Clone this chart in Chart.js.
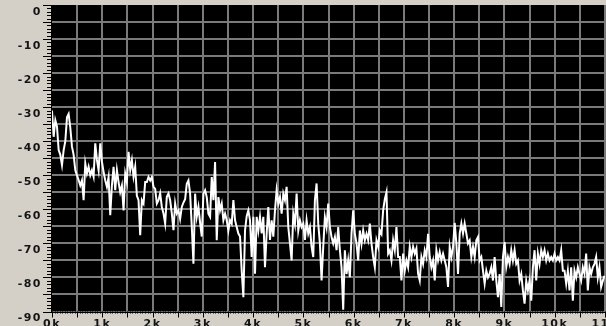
<!DOCTYPE html>
<html>
<head>
<meta charset="utf-8">
<script src="https://cdn.jsdelivr.net/npm/chart.js@4/dist/chart.umd.min.js"></script>
<style>
  html, body { margin: 0; padding: 0; background: #d4d0c8; }
  #wrap { width: 606px; height: 326px; position: relative; }
</style>
</head>
<body>
<div id="wrap"><canvas id="c" width="606" height="326"></canvas></div>
<script>
// Spectrum level (dB), one value per frequency bin.
const levelDb0to2_6k = [-31, -38.7, -33.8, -35.7, -42.6, -44, -47, -42.6, -40, -33, -32, -36, -41.6, -44, -48.5, -50, -51.4, -53, -51.5, -57.3, -46.5, -49.5, -47.5, -50, -48.5, -50.4, -40.6, -45.5, -48.5, -40.6, -46, -49, -51.5, -53.4, -50.5, -61.7, -53, -47.5, -54.4, -48.5, -52, -55, -53, -60.3, -49.5, -52, -43.1, -48.5, -45.6, -50.4, -47.5, -56, -57.3, -67.6, -57.3, -58.3, -52, -52, -50.5, -51.5, -50.5, -53.4, -54, -58.3, -57.3, -55.3, -59.3, -61.2, -64.2, -56.3, -55.3, -57.3, -61.2, -66.1, -58.3, -61.2, -60.3, -62.8, -59.3, -58];
const levelDb2_6to5_4k = [-57, -52.5, -51.5, -55.4, -65, -76, -55.4, -62.2, -59.3, -64, -68, -55.4, -54.4, -56.4, -61.3, -62.2, -50.5, -57.3, -46.1, -69.1, -56.4, -60.3, -58.3, -63.2, -61.3, -63.2, -66.2, -63.2, -64.2, -57.3, -63.2, -65.2, -67.1, -68, -78, -85.8, -66.2, -62, -60.3, -63.2, -74, -62.2, -78.9, -62.2, -66.2, -62.2, -67.1, -62.2, -77, -67.1, -59.3, -69, -63.2, -68, -60.3, -54.4, -58.3, -56.4, -61.3, -55.4, -57.3, -53.4, -65.2, -70, -75, -61.3, -64.2, -55.4, -66.2, -63.2, -65.2, -64.2, -69, -63.2, -67.1, -65.2, -71, -74, -57.3, -52.4, -64.2, -70, -80.9, -71];
const levelDb5_4to8_1k = [-62.3, -65.2, -58.3, -65.2, -68.1, -70, -68.1, -72, -65.2, -72, -77, -89.5, -72, -79, -75, -79.9, -67.2, -60.3, -67.2, -70, -75, -66.2, -70.1, -66.2, -69.1, -67.2, -69.1, -64.2, -70.1, -74, -77, -69.1, -71, -66.2, -67.2, -60.3, -57, -55, -73, -72, -75, -69.1, -72, -65.2, -74, -74, -80.9, -73, -78, -75, -77, -71, -74, -71, -73, -71.5, -78.9, -80.9, -74, -76, -72, -74, -67.2, -74, -77, -75, -80.9, -72, -75, -72.5, -75, -73, -75, -77, -82.8, -71, -74, -71, -64, -70, -79];
const levelDb8_1to11k = [-67.1, -64.2, -67.1, -64.2, -67.1, -70, -69.1, -74, -71, -74, -69.1, -68.1, -75, -74, -78, -81.8, -78, -80, -78.9, -77, -80.9, -74, -80.9, -85.8, -79, -88.7, -74, -69.6, -76.9, -74, -76, -72, -75, -72, -76, -75, -80.9, -79, -83.8, -87.7, -81, -83.8, -80.9, -86.8, -77, -72, -80.9, -73, -76, -72, -74, -72, -75, -73, -75, -74, -75, -73, -75, -74, -75, -72, -78, -78, -81.8, -78, -83.8, -77, -86.8, -78, -80, -77, -79, -80.9, -77, -78.9, -73, -83.8, -77, -79, -77, -76, -74, -80, -77, -82.8, -81, -79.5];

const binStepKHz = 0.0331;           // frequency spacing of the bins
const xTickLabels = ['0k', '1k', '2k', '3k', '4k', '5k', '6k', '7k', '8k', '9k', '10k', '11k'];

const levels = [].concat(levelDb0to2_6k, levelDb2_6to5_4k, levelDb5_4to8_1k, levelDb8_1to11k);
const points = levels.map((v, i) => ({ x: i * binStepKHz, y: v }));

const GRID = '#7a7a7a';
const TEXT = '#141414';
const FONT = { family: 'DejaVu Sans', size: 11, weight: 'bold' };

const framePlugin = {
  id: 'frame',
  beforeDraw(chart) {
    const { ctx, chartArea: a, width, height } = chart;
    ctx.save();
    ctx.fillStyle = '#d4d0c8';
    ctx.fillRect(0, 0, width, height);
    ctx.fillStyle = '#000';
    ctx.fillRect(a.left, a.top, width - a.left, a.bottom - a.top);
    ctx.restore();
    ctx.letterSpacing = '1.5px';
  },
  afterDraw(chart) {
    const { ctx, chartArea: a, scales } = chart;
    const ys = scales.y, xs = scales.x;
    ctx.save();
    ctx.letterSpacing = '0px';
    ctx.strokeStyle = '#000';
    ctx.lineWidth = 1;
    ctx.beginPath();
    for (let v = 0; v >= -90; v--) {
      const y = Math.round(ys.getPixelForValue(v)) + 0.5;
      const len = (v % 5 === 0) ? 9 : 5;
      ctx.moveTo(a.left - len, y);
      ctx.lineTo(a.left, y);
    }
    for (let j = 0; j <= 220; j++) {
      const x = Math.round(xs.getPixelForValue(j / 20)) + 0.5;
      const len = (j % 10 === 0) ? 6 : 2;
      ctx.moveTo(x, a.bottom);
      ctx.lineTo(x, a.bottom + len);
    }
    ctx.moveTo(Math.round(a.left) - 0.5, a.top);
    ctx.lineTo(Math.round(a.left) - 0.5, a.bottom + 1);
    ctx.moveTo(a.left, Math.round(a.bottom) + 0.5);
    ctx.lineTo(chart.width, Math.round(a.bottom) + 0.5);
    ctx.stroke();
    ctx.restore();
  }
};

new Chart(document.getElementById('c'), {
  type: 'line',
  data: {
    datasets: [{
      data: points,
      borderColor: '#ffffff',
      borderWidth: 2,
      pointRadius: 0,
      tension: 0,
      fill: false
    }]
  },
  options: {
    responsive: false,
    animation: false,
    devicePixelRatio: 1,
    parsing: false,
    layout: { padding: { top: 5, right: 1, left: 0, bottom: 0 } },
    plugins: { legend: { display: false }, tooltip: { enabled: false } },
    scales: {
      x: {
        type: 'linear',
        min: 0, max: 11,
        border: { display: false },
        grid: {
          color: c => (c.tick && c.tick.value === 0) ? 'rgba(0,0,0,0)' : GRID,
          lineWidth: 2,
          drawTicks: false
        },
        ticks: {
          stepSize: 0.5,
          autoSkip: false,
          maxRotation: 0,
          padding: 6,
          color: TEXT,
          font: FONT,
          callback: v => Number.isInteger(v) ? xTickLabels[v] : ''
        },
        afterFit: s => { s.height = 14.5; s.paddingLeft = 0; s.paddingRight = 0; }
      },
      y: {
        type: 'linear',
        min: -90, max: 0,
        border: { display: false },
        grid: {
          color: c => (c.tick && (c.tick.value === 0 || c.tick.value === -90)) ? 'rgba(0,0,0,0)' : GRID,
          lineWidth: 2,
          drawTicks: false
        },
        ticks: {
          stepSize: 5,
          autoSkip: false,
          padding: 10,
          labelOffset: 7,
          color: TEXT,
          font: FONT,
          callback: v => (v % 10 === 0) ? String(v) : ''
        },
        afterFit: s => { s.width = 52; s.paddingTop = 0; s.paddingBottom = 0; }
      }
    }
  },
  plugins: [framePlugin]
});
</script>
</body>
</html>
